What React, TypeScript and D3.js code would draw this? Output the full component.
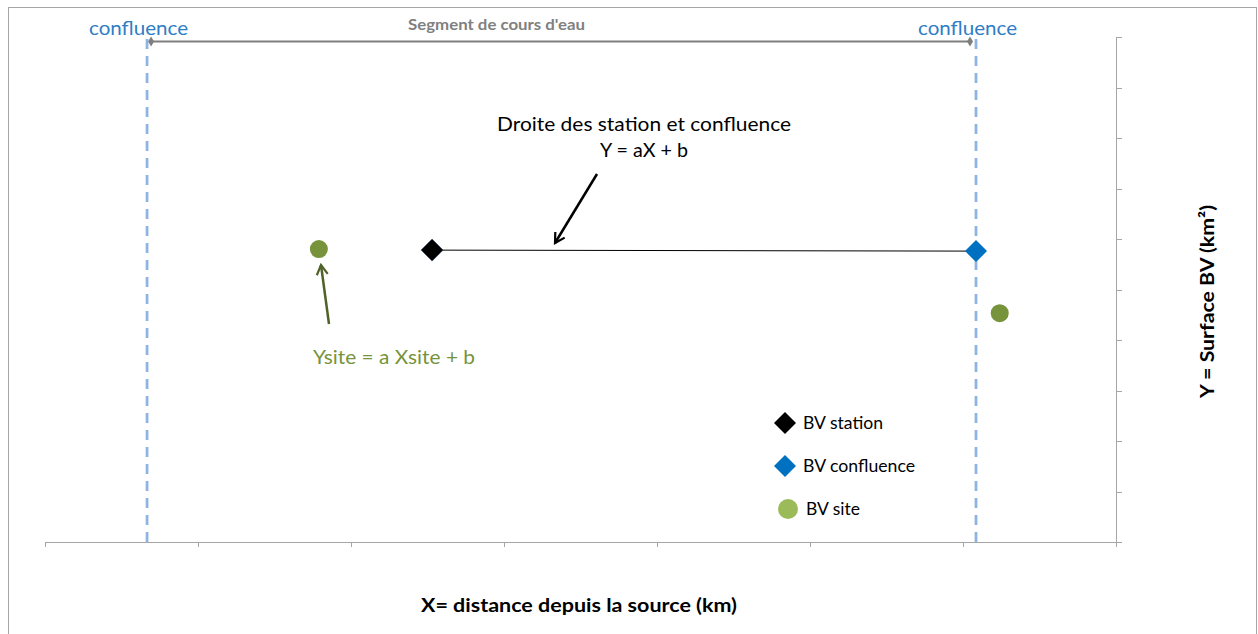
import React from "react";
import * as d3 from "d3";

// ---- data ----
const xDomain = [0, 7];
const yDomain = [0, 10];
const xTicks = [0, 1, 2, 3, 4, 5, 6, 7];
const yTicks = [0, 1, 2, 3, 4, 5, 6, 7, 8, 9, 10];

const stationPoint = { x: 2.53, y: 5.78 };
const confluencePoint = { x: 6.085, y: 5.76 };
const sitePoints = [
  { x: 1.79, y: 5.8 },
  { x: 6.24, y: 4.53 },
];
const confluenceX = [0.667, 6.085];
const segmentY = 9.91;

const legendItems = [
  { label: "BV station", shape: "diamond", color: "#000000", len: 80 },
  { label: "BV confluence", shape: "diamond", color: "#0070C0", len: 112 },
  { label: "BV site", shape: "circle", color: "#9BBB59", len: 54 },
];

const W = 1258;
const H = 634;
const FONT = "Lato, 'Open Sans', sans-serif";

export default function App() {
  const x = d3.scaleLinear().domain(xDomain).range([45, 1116]);
  const y = d3.scaleLinear().domain(yDomain).range([542, 37]);

  const diamond = (cx: number, cy: number, r: number) =>
    `M${cx},${cy - r}L${cx + r},${cy}L${cx},${cy + r}L${cx - r},${cy}Z`;

  const line = d3.line<{ x: number; y: number }>().x((d) => x(d.x)).y((d) => y(d.y));

  const segX0 = x(confluenceX[0]) + 4;
  const segX1 = x(confluenceX[1]) - 6;
  const segYpx = y(segmentY);

  return (
    <svg
      width={W}
      height={H}
      style={{ position: "absolute", left: 0, top: 0, background: "#fff" }}
      fontFamily={FONT}
    >
      <defs>
        <marker id="arrBlack" viewBox="0 0 10 10" refX="8" refY="5" markerWidth="5.5" markerHeight="5.5" orient="auto">
          <path d="M1,1 L8,5 L1,9" fill="none" stroke="#000" strokeWidth="1.6" />
        </marker>
        <marker id="arrGreen" viewBox="0 0 10 10" refX="8" refY="5" markerWidth="5.5" markerHeight="5.5" orient="auto">
          <path d="M1,1 L8,5 L1,9" fill="none" stroke="#4F6228" strokeWidth="1.6" />
        </marker>
      </defs>
      {/* frame */}
      <rect x={8.5} y={7.5} width={1248} height={700} fill="none" stroke="#A6A6A6" strokeWidth={1} />

      {/* x axis */}
      <line x1={x(0)} x2={1122} y1={y(0) + 0.5} y2={y(0) + 0.5} stroke="#A6A6A6" />
      {xTicks.map((t) => (
        <line key={"xt" + t} x1={Math.round(x(t)) + 0.5} x2={Math.round(x(t)) + 0.5} y1={y(0)} y2={y(0) + 5} stroke="#A6A6A6" />
      ))}
      {/* y axis */}
      <line x1={x(7) + 0.5} x2={x(7) + 0.5} y1={y(10)} y2={y(0) + 5} stroke="#A6A6A6" />
      {yTicks.map((t) => (
        <line key={"yt" + t} x1={x(7)} x2={x(7) + 6} y1={Math.round(y(t)) + 0.5} y2={Math.round(y(t)) + 0.5} stroke="#A6A6A6" />
      ))}

      {/* dashed confluence lines */}
      {confluenceX.map((c, i) => (
        <line key={"cl" + i} x1={x(c)} x2={x(c)} y1={y(9.96)} y2={y(0)} stroke="#8DB4E2" strokeWidth={2.75} strokeDasharray="10,7" />
      ))}

      {/* segment */}
      <line x1={segX0} x2={segX1} y1={segYpx} y2={segYpx} stroke="#7F7F7F" strokeWidth={2} />
      <path d={`M${segX0},${segYpx - 5}L${segX0 + 3},${segYpx}L${segX0},${segYpx + 5}L${segX0 - 3},${segYpx}Z`} fill="#7F7F7F" />
      <path d={`M${segX1},${segYpx - 5}L${segX1 + 3},${segYpx}L${segX1},${segYpx + 5}L${segX1 - 3},${segYpx}Z`} fill="#7F7F7F" />
      <text x={408} y={30} fontSize={15} fontWeight="bold" fill="#808080" textLength={177} lengthAdjust="spacingAndGlyphs">
        Segment de cours d'eau
      </text>
      <text x={89} y={35} fontSize={20} fill="#2E7DC6" textLength={99} lengthAdjust="spacingAndGlyphs">confluence</text>
      <text x={918} y={35} fontSize={20} fill="#2E7DC6" textLength={99} lengthAdjust="spacingAndGlyphs">confluence</text>

      {/* regression line */}
      <path d={line([stationPoint, confluencePoint]) || ""} stroke="#000" strokeWidth={1} fill="none" />

      {/* points */}
      <path d={diamond(x(stationPoint.x), y(stationPoint.y), 11)} fill="#000" stroke="#1F3864" strokeWidth={0.5} />
      <path d={diamond(x(confluencePoint.x), y(confluencePoint.y), 11)} fill="#0070C0" />
      {sitePoints.map((p, i) => (
        <circle key={"sp" + i} cx={x(p.x)} cy={y(p.y)} r={9} fill="#77933C" />
      ))}

      {/* annotations */}
      <text x={497} y={131} fontSize={20} fill="#000" textLength={294} lengthAdjust="spacingAndGlyphs">Droite des station et confluence</text>
      <text x={600} y={157} fontSize={20} fill="#000" textLength={88} lengthAdjust="spacingAndGlyphs">Y = aX + b</text>
      <line x1={597} y1={174} x2={555} y2={243} stroke="#000" strokeWidth={2.5} markerEnd="url(#arrBlack)" />

      <line x1={329} y1={324} x2={321} y2={265} stroke="#4F6228" strokeWidth={2.5} markerEnd="url(#arrGreen)" />
      <text x={313} y={364} fontSize={20} fill="#77933C" textLength={162} lengthAdjust="spacingAndGlyphs">Ysite = a Xsite + b</text>

      {/* legend */}
      {legendItems.map((it, i) => {
        const cy = 423 + i * 43;
        const cx = 785 + (i === 2 ? 3 : 0);
        return (
          <g key={"lg" + i}>
            {it.shape === "diamond" ? (
              <path d={diamond(cx, cy, 11)} fill={it.color} />
            ) : (
              <circle cx={cx} cy={cy} r={10} fill={it.color} />
            )}
            <text x={803 + (i === 2 ? 3 : 0)} y={cy + 6} fontSize={17.5} fill="#000" textLength={it.len} lengthAdjust="spacingAndGlyphs">{it.label}</text>
          </g>
        );
      })}

      {/* axis titles */}
      <text x={421} y={612} fontSize={19} fontWeight="bold" fill="#000" textLength={316} lengthAdjust="spacingAndGlyphs">
        X= distance depuis la source (km)
      </text>
      <text
        transform="translate(1214,398) rotate(-90)"
        fontSize={19}
        fontWeight="bold"
        fill="#000"
        textLength={193}
        lengthAdjust="spacingAndGlyphs"
      >
        Y = Surface BV (km²)
      </text>
    </svg>
  );
}
